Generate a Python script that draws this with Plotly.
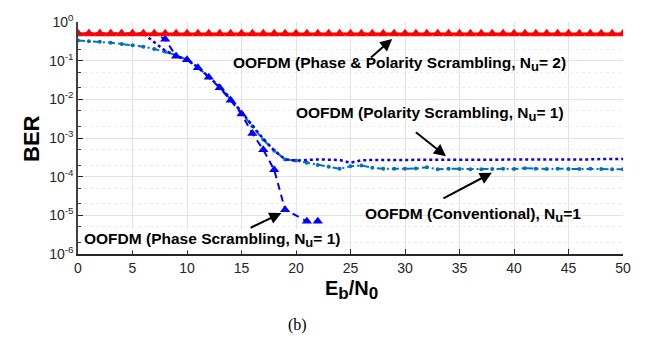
import numpy as np
import plotly.graph_objects as go

ebn0 = list(range(0, 51))

ber_phase_pol_nu2 = [0.5] * 51

ber_conventional = [0.33, 0.32, 0.31, 0.29, 0.27, 0.25, 0.23, 0.2, 0.17, 0.14,
                    0.105, 0.068, 0.038, 0.021, 0.01, 0.0045, 0.002, 9e-4, 4.7e-4, 2.8e-4,
                    2.6e-4, 2.3e-4, 2.0e-4, 1.8e-4, 1.6e-4, 1.85e-4, 1.95e-4, 1.7e-4, 1.6e-4, 1.6e-4,
                    1.6e-4, 1.62e-4, 1.75e-4, 1.55e-4, 1.6e-4, 1.58e-4, 1.55e-4, 1.55e-4, 1.57e-4, 1.6e-4,
                    1.58e-4, 1.65e-4, 1.6e-4, 1.58e-4, 1.6e-4, 1.58e-4, 1.58e-4, 1.6e-4, 1.58e-4, 1.56e-4,
                    1.56e-4]

ber_polarity = [0.5, 0.5, 0.5, 0.5, 0.5, 0.5, 0.5, 0.3, 0.18, 0.135,
                0.105, 0.068, 0.038, 0.021, 0.0105, 0.0048, 0.0021, 9.5e-4, 4.8e-4, 2.8e-4,
                2.6e-4, 2.7e-4, 2.8e-4, 2.75e-4, 2.7e-4, 2.3e-4, 2.65e-4, 2.7e-4, 2.7e-4, 2.75e-4,
                2.75e-4, 2.8e-4, 2.8e-4, 2.8e-4, 2.8e-4, 2.8e-4, 2.8e-4, 2.8e-4, 2.8e-4, 2.8e-4,
                2.8e-4, 2.8e-4, 2.8e-4, 2.8e-4, 2.8e-4, 2.8e-4, 2.8e-4, 2.8e-4, 2.85e-4, 2.85e-4,
                2.85e-4]

ebn0_phase = [0, 1, 2, 3, 4, 5, 6, 7, 8, 9, 10, 11, 12, 13, 14, 15, 16, 17, 18, 19, 21, 22]
ber_phase = [0.5, 0.5, 0.5, 0.5, 0.5, 0.5, 0.5, 0.5, 0.36, 0.13, 0.105, 0.066, 0.037, 0.02,
             0.0095, 0.0042, 0.0013, 5e-4, 1.5e-4, 1.4e-5, 7e-6, 7e-6]

x_ticks = [0, 5, 10, 15, 20, 25, 30, 35, 40, 45, 50]
y_tickvals = [1, 1e-1, 1e-2, 1e-3, 1e-4, 1e-5, 1e-6]
y_ticktext = ["10<sup>0</sup>", "10<sup>-1</sup>", "10<sup>-2</sup>", "10<sup>-3</sup>",
              "10<sup>-4</sup>", "10<sup>-5</sup>", "10<sup>-6</sup>"]

FONT = "Liberation Sans, Arial, sans-serif"

fig = go.Figure()
fig.add_trace(go.Scatter(x=ebn0, y=ber_conventional, mode="lines+markers",
                         line=dict(color="#0072BD", width=2, dash="7px,3px,2px,3px"),
                         marker=dict(symbol="circle", size=4, color="#0072BD")))
fig.add_trace(go.Scatter(x=ebn0, y=ber_polarity, mode="lines",
                         line=dict(color="#0000FF", width=2.5, dash="dot")))
fig.add_trace(go.Scatter(x=ebn0_phase, y=ber_phase, mode="lines+markers",
                         line=dict(color="#0000FF", width=2, dash="7px,5px"),
                         marker=dict(symbol="triangle-up", size=9, color="#0000FF")))
fig.add_trace(go.Scatter(x=ebn0, y=ber_phase_pol_nu2, mode="lines+markers",
                         line=dict(color="#FF0000", width=2.5),
                         marker=dict(symbol="triangle-up", size=10, color="#FF0000")))

def arrow(xh, yh, xt, yt):
    fig.add_annotation(x=xh, y=yh, ax=xt, ay=yt, xref="x", yref="y", axref="x", ayref="y",
                       text="", showarrow=True, arrowhead=2, arrowsize=1.2, arrowwidth=2,
                       arrowcolor="black")

arrow(28.82, -0.44, 26.74, -0.95)
arrow(33.76, -3.47, 30.86, -2.82)
arrow(37.97, -3.90, 33.39, -4.58)
arrow(18.66, -4.94, 15.70, -5.34)

SUB_U = "<sub><span style='font-size:13px'>u</span></sub>"

def label(x, y, text, bg=None):
    fig.add_annotation(x=x, y=y, xref="x", yref="y", text="<b>" + text + "</b>",
                       showarrow=False, font=dict(family=FONT, size=15.5, color="black"),
                       bgcolor=bg, borderpad=0)

label(29.5, -1.08, "OOFDM (Phase &amp; Polarity Scrambling, N" + SUB_U + "= 2)")
label(32.25, -2.37, "OOFDM (Polarity Scrambling, N" + SUB_U + "= 1)")
label(36.2, -5.0, "OOFDM (Conventional), N" + SUB_U + "=1")
label(12.29, -5.65, "OOFDM (Phase Scrambling, N" + SUB_U + "= 1)", bg="white")

L, R, T, B = 78, 23, 14, 85
W, H = 646, 339
pw, ph = W - L - R, H - T - B

def px2paper(px, py):
    return (px - L) / pw, 1 - (py - T) / ph

bx, by = px2paper(32, 135)
fig.add_annotation(x=bx, y=by, xref="paper", yref="paper", text="<b>BER</b>",
                   textangle=-90, showarrow=False, font=dict(family=FONT, size=22, color="black"),
                   xanchor="center", yanchor="middle")
ex, ey = px2paper(351, 291)
fig.add_annotation(x=ex, y=ey, xref="paper", yref="paper",
                   text="<b>E<sub><span style='font-size:17px'>b</span></sub>/N<sub><span style='font-size:17px'>0</span></sub></b>",
                   showarrow=False, font=dict(family=FONT, size=20, color="black"),
                   xanchor="center", yanchor="middle")
cx, cy = px2paper(297, 327)
fig.add_annotation(x=cx, y=cy, xref="paper", yref="paper", text="(b)",
                   showarrow=False, font=dict(family="Liberation Serif, Times New Roman, serif", size=16, color="black"),
                   xanchor="center", yanchor="middle")

fig.update_layout(
    width=W, height=H, margin=dict(l=L, r=R, t=T, b=B),
    paper_bgcolor="white", plot_bgcolor="white", showlegend=False,
    font=dict(family=FONT, size=14, color="#262626"),
)
fig.update_xaxes(range=[0, 50], tickvals=x_ticks, ticks="inside", ticklen=5,
                 tickcolor="#262626", showline=True, linecolor="#262626", linewidth=1.5,
                 showgrid=True, gridcolor="#e3e3e3", gridwidth=1, zeroline=False,
                 tickfont=dict(family=FONT, size=14, color="#262626"))
fig.update_yaxes(type="log", range=[-6, 0], tickvals=y_tickvals, ticktext=y_ticktext,
                 ticks="inside", ticklen=5, tickcolor="#262626", showline=True,
                 linecolor="#404040", linewidth=1.5, showgrid=True, gridcolor="#e3e3e3",
                 gridwidth=1, zeroline=False,
                 minor=dict(showgrid=True, gridcolor="#eeeeee", griddash="dot",
                            ticks="inside", ticklen=3, tickcolor="#404040"),
                 tickfont=dict(family=FONT, size=14, color="#262626"))

fig.write_html("out.html")
